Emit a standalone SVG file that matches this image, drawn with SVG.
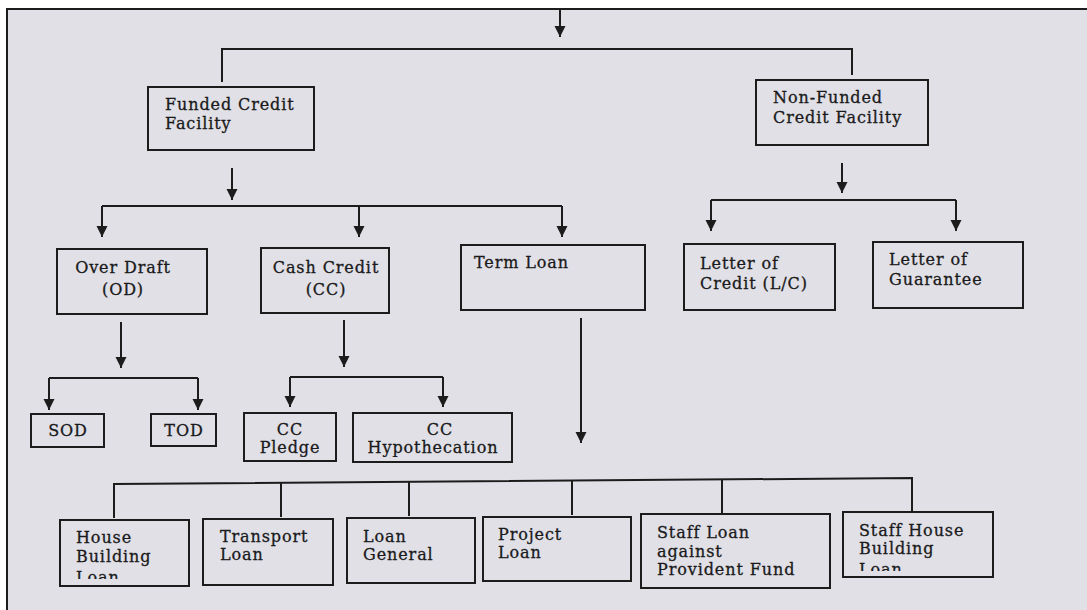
<svg xmlns="http://www.w3.org/2000/svg" width="1087" height="610" viewBox="0 0 1087 610">
<style>
.bx{fill:#e1e0e7;stroke:#1c1c1c;stroke-width:2}
.t{font-family:"DejaVu Serif","Liberation Serif",serif;font-size:16px;letter-spacing:0.9px;fill:#1a1a1a;stroke:#1a1a1a;stroke-width:0.3}
.c{text-anchor:middle}
.ln{fill:none;stroke:#1c1c1c;stroke-width:2}
</style>
<defs>
<marker id="ah" markerUnits="userSpaceOnUse" markerWidth="12" markerHeight="12" refX="11" refY="6" orient="auto">
<path d="M0,0.5 L11,6 L0,11.5 z" fill="#1c1c1c"/>
</marker>
<clipPath id="cpHB"><rect x="60" y="520" width="129" height="59"/></clipPath>
<clipPath id="cpSH"><rect x="843" y="512" width="150" height="59"/></clipPath>
<clipPath id="cpPl"><rect x="244" y="413" width="92" height="44"/></clipPath>
<clipPath id="cpHy"><rect x="353" y="413" width="159" height="44"/></clipPath>
</defs>
<rect x="0" y="0" width="1087" height="610" fill="#ffffff"/>
<rect x="7" y="9" width="1080" height="601" fill="#e1e0e7"/>
<path d="M1087,9 H7 V610" fill="none" stroke="#1c1c1c" stroke-width="2"/>

<g id="connectors">
<path class="ln" d="M560,9 V37" marker-end="url(#ah)"/>
<path class="ln" d="M222,82 V49 H852 V75"/>
<path class="ln" d="M232,168 V200" marker-end="url(#ah)"/>
<path class="ln" d="M102,206 H562"/>
<path class="ln" d="M102,206 V237" marker-end="url(#ah)"/>
<path class="ln" d="M359,206 V237" marker-end="url(#ah)"/>
<path class="ln" d="M562,206 V237" marker-end="url(#ah)"/>
<path class="ln" d="M842,163 V193" marker-end="url(#ah)"/>
<path class="ln" d="M711,200 H956"/>
<path class="ln" d="M711,200 V231" marker-end="url(#ah)"/>
<path class="ln" d="M956,200 V231" marker-end="url(#ah)"/>
<path class="ln" d="M121,322 V368" marker-end="url(#ah)"/>
<path class="ln" d="M49,378 H198"/>
<path class="ln" d="M49,378 V410" marker-end="url(#ah)"/>
<path class="ln" d="M198,378 V410" marker-end="url(#ah)"/>
<path class="ln" d="M344,320 V367" marker-end="url(#ah)"/>
<path class="ln" d="M290,377 H443"/>
<path class="ln" d="M290,377 V407" marker-end="url(#ah)"/>
<path class="ln" d="M443,377 V407" marker-end="url(#ah)"/>
<path class="ln" d="M581,318 V443" marker-end="url(#ah)"/>
<path class="ln" d="M114,518 V484 L912,478 V512"/>
<path class="ln" d="M281,517 V482.7"/>
<path class="ln" d="M409,516 V481.8"/>
<path class="ln" d="M572,515 V480.6"/>
<path class="ln" d="M722,514 V479.4"/>
</g>

<g id="funded">
<rect class="bx" x="148" y="87" width="166" height="63"/>
<text class="t" x="165" y="110">Funded Credit</text>
<text class="t" x="165" y="129">Facility</text>
</g>
<g id="nonfunded">
<rect class="bx" x="756" y="80" width="172" height="65"/>
<text class="t" x="773" y="103">Non-Funded</text>
<text class="t" x="773" y="123">Credit Facility</text>
</g>
<g id="overdraft">
<rect class="bx" x="57" y="249" width="150" height="65"/>
<text class="t c" x="123" y="273">Over Draft</text>
<text class="t c" x="123" y="295">(OD)</text>
</g>
<g id="cashcredit">
<rect class="bx" x="261" y="248" width="128" height="65"/>
<text class="t c" x="326" y="273">Cash Credit</text>
<text class="t c" x="326" y="295">(CC)</text>
</g>
<g id="termloan">
<rect class="bx" x="461" y="245" width="184" height="65"/>
<text class="t" x="474" y="268">Term Loan</text>
</g>
<g id="lc">
<rect class="bx" x="684" y="244" width="151" height="66"/>
<text class="t" x="700" y="269">Letter of</text>
<text class="t" x="700" y="289">Credit (L/C)</text>
</g>
<g id="lg">
<rect class="bx" x="873" y="242" width="150" height="66"/>
<text class="t" x="889" y="265">Letter of</text>
<text class="t" x="889" y="285">Guarantee</text>
</g>
<g id="sod">
<rect class="bx" x="31" y="414" width="73" height="33"/>
<text class="t c" x="68" y="436">SOD</text>
</g>
<g id="tod">
<rect class="bx" x="151" y="414" width="65" height="32"/>
<text class="t c" x="184" y="436">TOD</text>
</g>
<g id="ccpledge">
<rect class="bx" x="244" y="413" width="92" height="48"/>
<g clip-path="url(#cpPl)">
<text class="t c" x="290" y="435">CC</text>
<text class="t c" x="290" y="453">Pledge</text>
</g>
</g>
<g id="cchyp">
<rect class="bx" x="353" y="413" width="159" height="49"/>
<g clip-path="url(#cpHy)">
<text class="t c" x="440" y="435">CC</text>
<text class="t c" x="433" y="453">Hypothecation</text>
</g>
</g>
<g id="housebuilding">
<rect class="bx" x="60" y="520" width="129" height="66"/>
<g clip-path="url(#cpHB)">
<text class="t" x="76" y="543">House</text>
<text class="t" x="76" y="562">Building</text>
<text class="t" x="76" y="583">Loan</text>
</g>
</g>
<g id="transport">
<rect class="bx" x="203" y="519" width="130" height="66"/>
<text class="t" x="220" y="542">Transport</text>
<text class="t" x="220" y="560">Loan</text>
</g>
<g id="loangeneral">
<rect class="bx" x="347" y="518" width="128" height="65"/>
<text class="t" x="363" y="542">Loan</text>
<text class="t" x="363" y="560">General</text>
</g>
<g id="project">
<rect class="bx" x="483" y="517" width="148" height="64"/>
<text class="t" x="498" y="540">Project</text>
<text class="t" x="498" y="558">Loan</text>
</g>
<g id="staffpf">
<rect class="bx" x="641" y="514" width="189" height="74"/>
<text class="t" x="657" y="538">Staff Loan</text>
<text class="t" x="657" y="557">against</text>
<text class="t" x="657" y="575">Provident Fund</text>
</g>
<g id="staffhouse">
<rect class="bx" x="843" y="512" width="150" height="65"/>
<g clip-path="url(#cpSH)">
<text class="t" x="859" y="536">Staff House</text>
<text class="t" x="859" y="554">Building</text>
<text class="t" x="859" y="575">Loan</text>
</g>
</g>
</svg>
